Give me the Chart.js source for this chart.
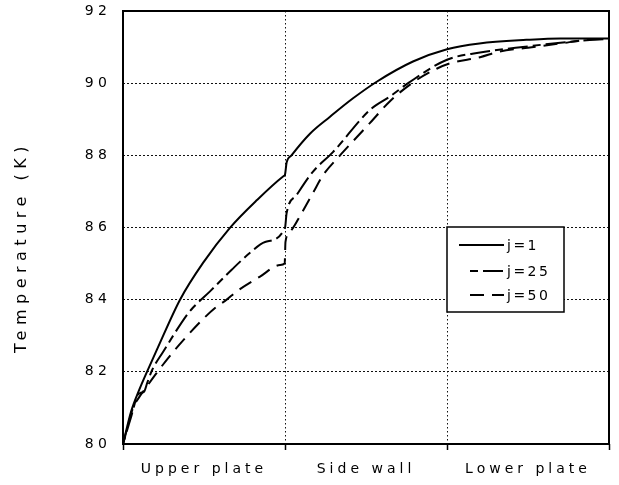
<!DOCTYPE html>
<html><head><meta charset="utf-8">
<script src="https://cdn.jsdelivr.net/npm/chart.js@4.4.1/dist/chart.umd.min.js"></script>
<style>html,body{margin:0;padding:0;background:#fff}#wrap{width:619px;height:485px;position:relative}</style>
</head><body><div id="wrap"><canvas id="c"></canvas></div>
<script>
// ---- data ----
const categories = ['Upper plate', 'Side wall', 'Lower plate'];
const categoryTicks = [0, 0.5, 1, 1.5, 2, 2.5, 3];
const yTicks = [80, 82, 84, 86, 88, 90, 92];
const yTitle = 'Temperature (K)';
const seriesLabels = ['j=1', 'j=25', 'j=50'];

const posJ1  = [0, 0.05, 0.1, 0.148, 0.208, 0.352, 0.494, 0.66, 0.827, 0.99, 1.0, 1.01, 1.04, 1.154, 1.278, 1.42, 1.566, 1.79, 2.0, 2.2, 2.49, 2.7, 3.0];
const tempJ1 = [80.0, 80.9, 81.5, 82.0, 82.6, 84.0, 85.02, 85.99, 86.76, 87.42, 87.47, 87.8, 88.0, 88.6, 89.07, 89.58, 90.04, 90.6, 90.94, 91.1, 91.2, 91.24, 91.24];

const posJ25  = [0, 0.05, 0.09, 0.11, 0.13, 0.15, 0.18, 0.247, 0.395, 0.43, 0.537, 0.671, 0.784, 0.877, 1.0, 1.01, 1.072, 1.173, 1.296, 1.525, 1.648, 1.76, 2.0, 2.204, 2.5, 2.7, 2.9, 3.0];
const tempJ25 = [80.0, 80.75, 81.35, 81.42, 81.45, 81.7, 82.05, 82.55, 83.58, 83.77, 84.23, 84.83, 85.3, 85.6, 85.99, 86.4, 86.9, 87.55, 88.09, 89.26, 89.63, 90.0, 90.65, 90.85, 91.02, 91.12, 91.2, 91.22];

const posJ50  = [0, 0.03, 0.062, 0.1, 0.14, 0.208, 0.3, 0.393, 0.48, 0.568, 0.64, 0.702, 0.846, 0.969, 0.998, 1.003, 1.03, 1.103, 1.173, 1.235, 1.34, 1.401, 1.525, 1.648, 1.79, 1.936, 2.019, 2.204, 2.327, 2.5, 2.7, 2.86, 3.0];
const tempJ50 = [80.0, 80.5, 81.0, 81.3, 81.55, 81.97, 82.5, 82.98, 83.4, 83.77, 84.0, 84.23, 84.64, 84.96, 85.0, 85.6, 85.88, 86.4, 86.96, 87.45, 88.0, 88.3, 88.9, 89.5, 90.02, 90.4, 90.55, 90.72, 90.88, 90.98, 91.1, 91.2, 91.23];

// ---- chart ----
const FONT = 'DejaVu Sans';
const toPts = (xs, ys) => xs.map((x, i) => ({x: x, y: ys[i]}));

const spacingPlugin = {
  id: 'spacing',
  beforeDraw(chart) {
    const map = {x: '4px', y: '4.5px'};
    Object.keys(map).forEach(id => {
      const sc = chart.scales[id];
      if (sc && !sc.__ls) {
        const orig = sc.drawLabels;
        sc.drawLabels = function (area) {
          const ctx = this.ctx;
          ctx.letterSpacing = map[id];
          orig.call(this, area);
          ctx.letterSpacing = '0px';
        };
        sc.__ls = true;
      }
    });
  }
};

const framePlugin = {
  id: 'frame',
  afterDatasetsDraw(chart) {
    const {ctx, chartArea: a} = chart;
    ctx.save();
    ctx.strokeStyle = '#000';
    ctx.lineWidth = 2;
    ctx.setLineDash([]);
    ctx.strokeRect(a.left, a.top, a.right - a.left, a.bottom - a.top);
    ctx.restore();
  },
  afterDraw(chart) {
    const ctx = chart.ctx;
    // y axis title
    ctx.save();
    ctx.font = '16px "' + FONT + '"';
    ctx.fillStyle = '#000';
    ctx.letterSpacing = '5.5px';
    ctx.translate(22, 353);
    ctx.rotate(-Math.PI / 2);
    ctx.textAlign = 'left';
    ctx.textBaseline = 'middle';
    ctx.fillText(yTitle, 0, 0);
    ctx.restore();

    // legend
    const bx = 447, by = 227, bw = 117, bh = 85;
    const rows = [245, 271, 295];
    ctx.save();
    ctx.fillStyle = '#fff';
    ctx.fillRect(bx, by, bw, bh);
    ctx.strokeStyle = '#000';
    ctx.lineWidth = 1.5;
    ctx.setLineDash([]);
    ctx.strokeRect(bx, by, bw, bh);
    const starts = [459, 470, 470];
    chart.data.datasets.forEach((ds, i) => {
      const yy = rows[i];
      ctx.beginPath();
      ctx.lineWidth = ds.borderWidth;
      ctx.setLineDash(ds.borderDash || []);
      ctx.lineDashOffset = 0;
      ctx.moveTo(starts[i], yy);
      ctx.lineTo(504, yy);
      ctx.stroke();
      ctx.setLineDash([]);
      ctx.font = '14px "' + FONT + '"';
      ctx.letterSpacing = '2.5px';
      ctx.fillStyle = '#000';
      ctx.textAlign = 'left';
      ctx.textBaseline = 'middle';
      ctx.fillText(ds.label, 507, yy + 1);
      ctx.letterSpacing = '0px';
    });
    ctx.restore();
  }
};

new Chart(document.getElementById('c'), {
  type: 'line',
  data: {
    datasets: [
      {label: seriesLabels[0], data: toPts(posJ1, tempJ1), borderColor: '#000', borderWidth: 2, borderDash: [], pointRadius: 0, cubicInterpolationMode: 'monotone', fill: false},
      {label: seriesLabels[1], data: toPts(posJ25, tempJ25), borderColor: '#000', borderWidth: 2, borderDash: [8, 5, 20, 5], pointRadius: 0, cubicInterpolationMode: 'monotone', fill: false},
      {label: seriesLabels[2], data: toPts(posJ50, tempJ50), borderColor: '#000', borderWidth: 2, borderDash: [14, 8], pointRadius: 0, cubicInterpolationMode: 'monotone', fill: false}
    ]
  },
  options: {
    responsive: true,
    maintainAspectRatio: false,
    animation: false,
    devicePixelRatio: 1,
    layout: {padding: {top: 11, right: 10, left: 0, bottom: 0}},
    plugins: {legend: {display: false}, tooltip: {enabled: false}},
    scales: {
      x: {
        type: 'linear', min: 0, max: 3,
        afterBuildTicks: s => { s.ticks = categoryTicks.map(v => ({value: v})); },
        afterFit: s => { s.height = 41; s.paddingLeft = 0; s.paddingRight = 0; },
        ticks: {
          autoSkip: false, maxRotation: 0, padding: 11, color: '#000',
          font: {family: FONT, size: 14},
          callback: v => (v % 1 === 0.5 ? categories[Math.floor(v)] : '')
        },
        grid: {
          color: c => (c.tick && c.tick.value > 0 && c.tick.value < 3 && Number.isInteger(c.tick.value)) ? '#111' : 'rgba(0,0,0,0)',
          lineWidth: 1, tickLength: 6,
          tickColor: c => (c.tick && Number.isInteger(c.tick.value)) ? '#000' : 'rgba(0,0,0,0)',
          tickWidth: 1.5, tickBorderDash: []
        },
        border: {display: false, dash: [1.5, 2.5]}
      },
      y: {
        min: 80, max: 92,
        afterBuildTicks: s => { s.ticks = yTicks.map(v => ({value: v})); },
        afterFit: s => { s.width = 123; s.paddingTop = 0; s.paddingBottom = 0; },
        ticks: {padding: 11.5, color: '#000', font: {family: FONT, size: 14}},
        grid: {
          color: c => (c.tick && c.tick.value > 80 && c.tick.value < 92) ? '#111' : 'rgba(0,0,0,0)',
          lineWidth: 1, drawTicks: false
        },
        border: {display: false, dash: [2, 2]}
      }
    }
  },
  plugins: [spacingPlugin, framePlugin]
});
</script>
</body></html>
